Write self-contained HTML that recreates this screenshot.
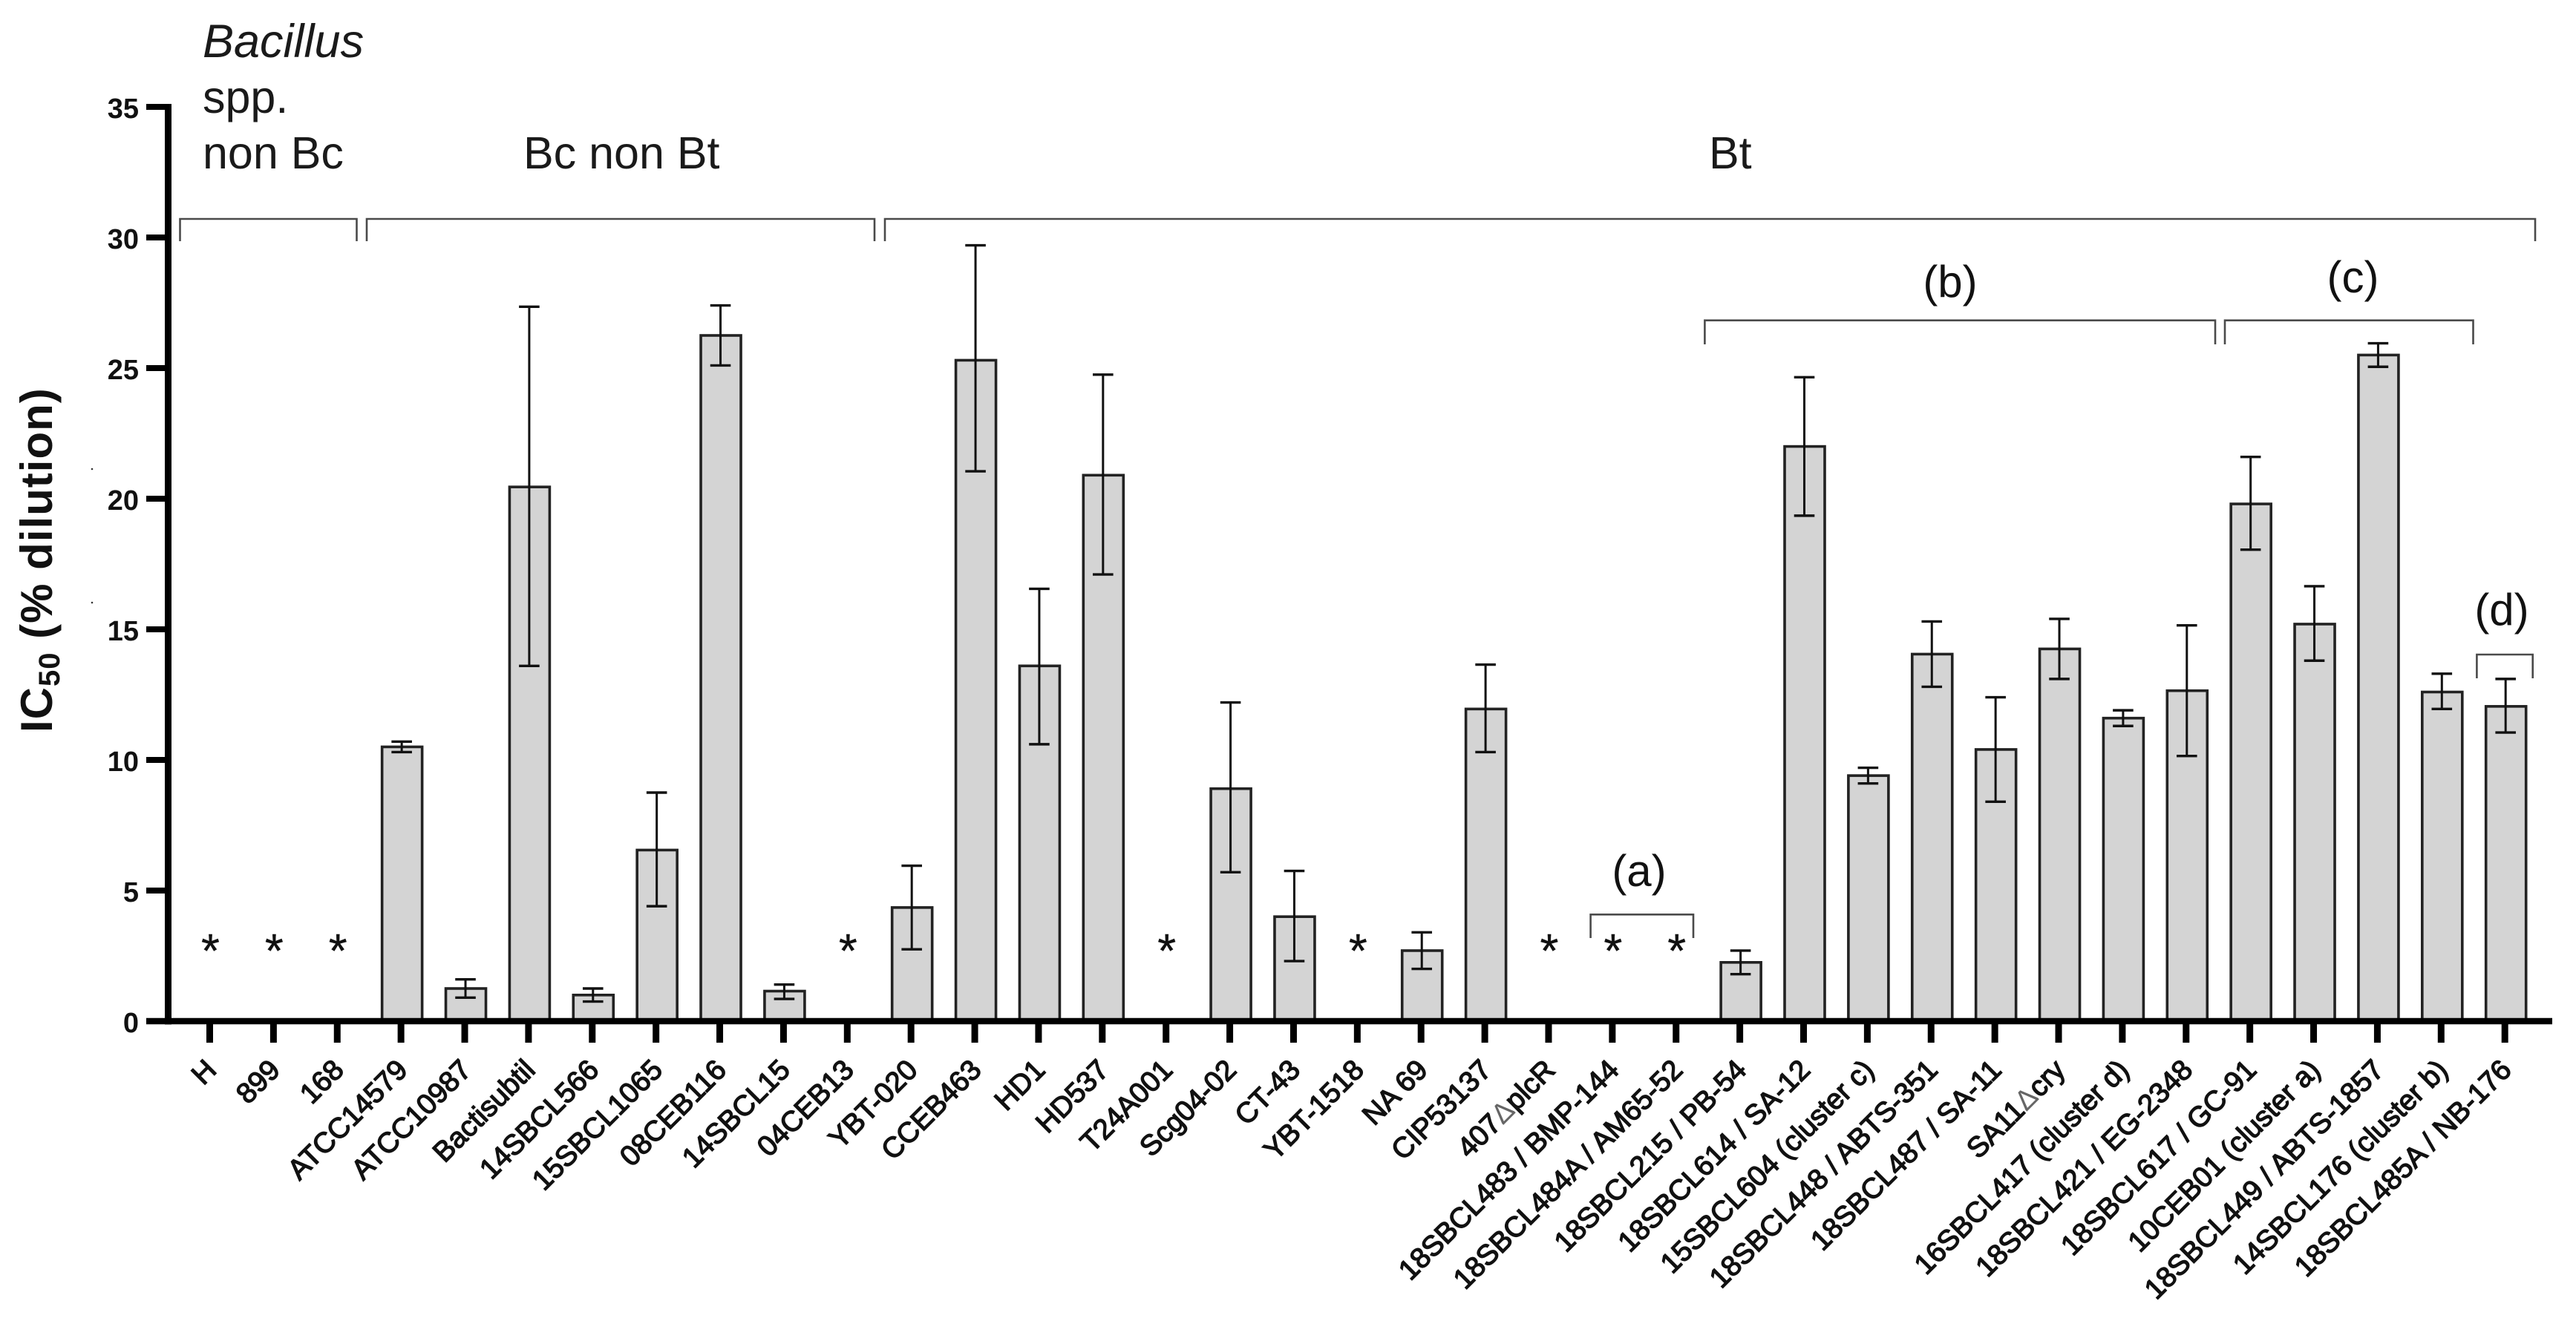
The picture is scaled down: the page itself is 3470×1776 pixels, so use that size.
<!DOCTYPE html>
<html lang="en">
<head>
<meta charset="utf-8">
<title>IC50 of Bacillus strains</title>
<style>
html,body{margin:0;padding:0;background:#fff;width:3470px;height:1776px;overflow:hidden}
svg{display:block}
text{font-family:"Liberation Sans",Arial,sans-serif}
.bk{fill:none;stroke:#4a4a4a;stroke-width:2.6}
.big{font-size:61px;fill:#1a1a1a}
.par{font-size:60px;fill:#111;text-anchor:middle}
</style>
</head>
<body>
<svg id="chart" xmlns="http://www.w3.org/2000/svg" width="3470" height="1776" viewBox="0 0 3470 1776">
  <rect x="0" y="0" width="3470" height="1776" fill="#fff"/>

  <text class="big" x="273" y="77" font-style="italic" style="font-size:63px">Bacillus</text>
  <text class="big" x="273" y="152">spp.</text>
  <text class="big" x="273" y="227">non Bc</text>
  <text class="big" x="705" y="227">Bc non Bt</text>
  <text class="big" x="2302" y="227">Bt</text>

  <path class="bk" d="M242.5 325V295H480.5V325"/>
  <path class="bk" d="M494 325V295H1178V325"/>
  <path class="bk" d="M1192 325V295H3415V325"/>
  <path class="bk" d="M2142.6 1264V1232.3H2281V1264"/>
  <path class="bk" d="M2296.4 464V431.7H2984V464"/>
  <path class="bk" d="M2997 464V431.7H3331.5V464"/>
  <path class="bk" d="M3336.4 914V882H3411.7V914"/>

  <text class="par" x="2208" y="1194">(a)</text>
  <text class="par" x="2627" y="400">(b)</text>
  <text class="par" x="3169.5" y="394">(c)</text>
  <text class="par" x="3370" y="842">(d)</text>

  <text transform="translate(70,987) rotate(-90)" font-size="60" font-weight="bold" fill="#111" letter-spacing="1">IC<tspan font-size="40" dy="10">50</tspan><tspan dy="-10"> (% dilution)</tspan></text>

  <circle cx="124" cy="632" r="1.3" fill="#333"/>
  <circle cx="124" cy="812" r="1.3" fill="#333"/>

  <g id="marks"></g>
  <g id="axes"></g>
</svg>
<script>
const categories = ["H","899","168","ATCC14579","ATCC10987","Bactisubtil","14SBCL566","15SBCL1065","08CEB116","14SBCL15","04CEB13","YBT-020","CCEB463","HD1","HD537","T24A001","Scg04-02","CT-43","YBT-1518","NA 69","CIP53137","407ΔplcR","18SBCL483 / BMP-144","18SBCL484A / AM65-52","18SBCL215 / PB-54","18SBCL614 / SA-12","15SBCL604 (cluster c)","18SBCL448 / ABTS-351","18SBCL487 / SA-11","SA11Δcry","16SBCL417 (cluster d)","18SBCL421 / EG-2348","18SBCL617 / GC-91","10CEB01 (cluster a)","18SBCL449 / ABTS-1857","14SBCL176 (cluster b)","18SBCL485A / NB-176"];
const values = [null,null,null,10.5,1.25,20.45,1.0,6.55,26.25,1.15,null,4.35,25.3,13.6,20.9,null,8.9,4.0,null,2.7,11.95,null,null,null,2.25,22.0,9.4,14.05,10.4,14.25,11.6,12.65,19.8,15.2,25.5,12.6,12.05];
const errLow = [null,null,null,10.3,0.9,13.6,0.75,4.4,25.1,0.85,null,2.75,21.05,10.6,17.1,null,5.7,2.3,null,2.0,10.3,null,null,null,1.8,19.35,9.1,12.8,8.4,13.1,11.3,10.15,18.05,13.8,25.05,11.95,11.05];
const errHigh = [null,null,null,10.7,1.6,27.35,1.25,8.75,27.4,1.4,null,5.95,29.7,16.55,24.75,null,12.2,5.75,null,3.4,13.65,null,null,null,2.7,24.65,9.7,15.3,12.4,15.4,11.9,15.15,21.6,16.65,25.95,13.3,13.1];
const yTicks = [0,5,10,15,20,25,30,35];
const starLevel = 2.9;

const NS = "http://www.w3.org/2000/svg";
const marks = document.getElementById("marks");
const axes = document.getElementById("axes");
function xPos(i){ return 282.5 + i * 85.88; }
function yPos(v){ return 1376 - v * 35.2; }
function mk(tag, attrs, parent){
  const el = document.createElementNS(NS, tag);
  for (const k in attrs) el.setAttribute(k, attrs[k]);
  parent.appendChild(el);
  return el;
}

categories.forEach(function(name, i){
  const cx = xPos(i) + 1.5;
  const v = values[i];
  if (v === null) {
    const star = mk("text", {x: xPos(i) + 1, y: yPos(starLevel) + 29, "font-size": 64, fill: "#111", stroke: "#111", "stroke-width": 0.4, "text-anchor": "middle"}, marks);
    
    
    star.textContent = "*";
  } else {
    const bar = mk("rect", {x: cx - 27, y: yPos(v), width: 54, height: yPos(0) - yPos(v), fill: "#d4d4d4", stroke: "#222", "stroke-width": 3.6}, marks);
    
    
    const ex = cx - 0.5;
    const stem = mk("line", {x1: ex, x2: ex, y1: yPos(errLow[i]), y2: yPos(errHigh[i]), stroke: "#111", "stroke-width": 3}, marks);
    
    
    const capTop = mk("line", {x1: ex - 13.8, x2: ex + 13.8, y1: yPos(errHigh[i]), y2: yPos(errHigh[i]), stroke: "#111", "stroke-width": 3.4}, marks);
    
    
    const capBottom = mk("line", {x1: ex - 13.8, x2: ex + 13.8, y1: yPos(errLow[i]), y2: yPos(errLow[i]), stroke: "#111", "stroke-width": 3.4}, marks);
    
    
  }

  const tick = mk("line", {x1: xPos(i), x2: xPos(i), y1: yPos(0), y2: 1405, stroke: "#000", "stroke-width": 9}, axes);
  
  

  const ax = xPos(i) + 11;
  const ay = 1444;
  const label = mk("text", {transform: "translate(" + ax + "," + ay + ") rotate(-45)", "text-anchor": "end", "font-size": 38.5, fill: "#111", stroke: "#111", "stroke-width": 1.4}, axes);
  
  
  const parts = name.split("Δ");
  parts.forEach(function(part, j){
    if (j > 0) {
      const d = mk("tspan", {fill: "#666", stroke: "none"}, label);
      d.textContent = "Δ";
    }
    const t = mk("tspan", {}, label);
    t.textContent = part;
  });
});

const yAxis = mk("line", {x1: 226.5, x2: 226.5, y1: yPos(35) - 4, y2: yPos(0) + 4.5, stroke: "#000", "stroke-width": 9}, axes);



const xAxis = mk("line", {x1: 197, x2: 3438, y1: yPos(0), y2: yPos(0), stroke: "#000", "stroke-width": 8.5}, axes);



yTicks.forEach(function(v){
  const t = mk("line", {x1: 197, x2: 226, y1: yPos(v), y2: yPos(v), stroke: "#000", "stroke-width": 8}, axes);
  
  
  const l = mk("text", {x: 187, y: yPos(v) + 15, "text-anchor": "end", "font-size": 38, "font-weight": "bold", fill: "#111"}, axes);
  
  
  l.textContent = String(v);
});
</script>
</body>
</html>
